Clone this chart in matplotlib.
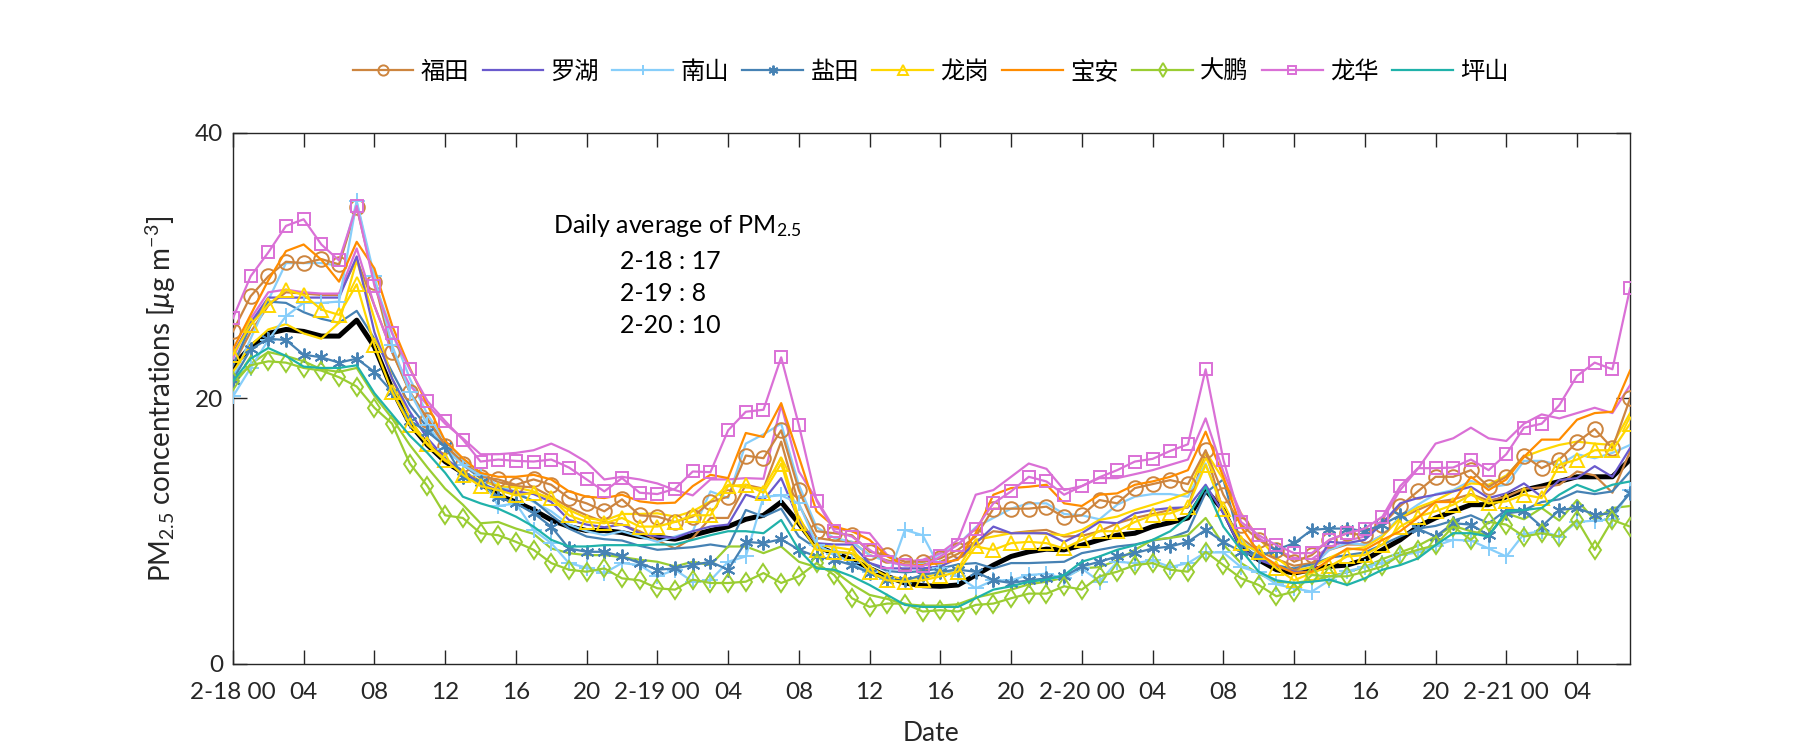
import numpy as np
import matplotlib.pyplot as plt

plt.rcParams['font.family'] = ['Lato', 'Noto Sans CJK SC', 'DejaVu Sans']
plt.rcParams['mathtext.fontset'] = 'custom'
plt.rcParams['mathtext.rm'] = 'Lato'
plt.rcParams['mathtext.it'] = 'Lato:italic'
plt.rcParams['mathtext.default'] = 'regular'

# hourly values, 2-18 00:00 .. 2-21 07:00
hours = np.arange(80)
tick_pos = [0, 4, 8, 12, 16, 20, 24, 28, 32, 36, 40, 44, 48, 52, 56, 60, 64, 68, 72, 76]
tick_labels = ['2-18 00', '04', '08', '12', '16', '20',
               '2-19 00', '04', '08', '12', '16', '20',
               '2-20 00', '04', '08', '12', '16', '20',
               '2-21 00', '04']

names = ['福田', '罗湖', '南山', '盐田', '龙岗', '宝安', '大鹏', '龙华', '坪山']
colors = ['#CD853F', '#6A5ACD', '#87CEFA', '#4682B4', '#FFD700',
          '#FF8C00', '#9ACD32', '#DA70D6', '#20B2AA']
markers = ['o', None, '+', (6, 2, 0), '^', None, 'd', 's', None]
msizes = [10.5, 0, 11, 10, 10.5, 0, 9.5, 8, 0]

# city average (thick black)
avg = [22.4, 23.9, 24.9, 25.2, 25.05, 24.7, 24.7, 25.9, 23.9, 20.7, 18.1, 16.5,
       15.25, 14.4, 13.6, 12.7, 12.2, 11.6, 10.85, 10.35, 10.05, 10.05, 9.9, 9.6,
       9.55, 9.4, 9.7, 10.05, 10.35, 10.9, 11.2, 12.2, 10.6, 8.85, 8.35, 7.85,
       7.2, 6.6, 6.1, 5.9, 5.85, 5.95, 6.7, 7.45, 8.1, 8.45, 8.65, 8.6,
       8.95, 9.35, 9.7, 9.85, 10.35, 10.65, 11.0, 13.1, 11.6, 8.85, 7.85, 7.1,
       6.85, 7.1, 7.35, 7.45, 7.85, 8.6, 9.35, 10.35, 11.0, 11.5, 12.0, 12.0,
       12.6, 13.1, 13.4, 13.75, 14.1, 14.1, 14.1, 15.4]

futian = [25.05, 27.7, 29.2, 30.3, 30.2, 30.5, 30.1, 34.4, 28.8, 23.5, 20.5, 18.4,
          16.4, 15.1, 14.1, 13.9, 13.5, 13.9, 13.5, 12.5, 12.1, 11.5, 12.4, 11.2,
          11.1, 10.7, 11.1, 12.2, 12.6, 15.7, 15.5, 17.6, 13.1, 10.0, 9.85, 9.7,
          8.45, 8.2, 7.7, 7.7, 7.95, 8.6, 9.6, 11.7, 11.7, 11.7, 11.85, 11.05,
          11.2, 12.35, 12.1, 13.25, 13.55, 13.85, 13.55, 16.1, 12.75, 10.5, 9.35, 8.6,
          7.7, 8.2, 9.35, 9.85, 9.7, 10.5, 11.9, 13.0, 14.1, 14.1, 14.6, 13.35,
          14.1, 15.7, 14.75, 15.4, 16.7, 17.7, 16.25, 20.0]
luohu = [23.4, 25.7, 27.6, 27.6, 27.6, 27.6, 27.6, 30.7, 25.0, 21.5, 19.0, 17.0,
         15.5, 14.5, 13.6, 13.1, 13.0, 12.8, 12.2, 10.85, 10.5, 10.3, 10.5, 9.85,
         9.6, 9.5, 10.0, 10.35, 10.5, 12.75, 12.35, 14.0, 10.85, 9.1, 9.0, 9.0,
         7.6, 7.2, 7.2, 7.2, 7.35, 7.95, 9.1, 10.35, 9.85, 9.85, 9.85, 9.2,
         9.85, 10.7, 10.6, 11.35, 11.6, 11.75, 11.8, 13.5, 11.35, 8.7, 7.85, 7.35,
         6.95, 6.95, 9.2, 9.1, 9.35, 10.6, 12.1, 12.5, 12.75, 13.0, 13.35, 12.5,
         12.85, 13.6, 12.6, 13.85, 14.0, 14.9, 14.1, 16.25]
nanshan = [20.15, 22.3, 24.4, 26.2, 27.2, 27.2, 27.3, 34.85, 29.2, 24.0, 20.5, 18.0,
           16.2, 15.0, 14.2, 11.9, 12.1, 10.1, 9.1, 7.6, 7.25, 6.85, 7.6, 7.45,
           6.6, 7.1, 6.2, 6.3, 7.7, 8.1, 12.6, 12.7, 12.1, 9.0, 8.3, 7.6,
           6.9, 6.4, 10.1, 9.7, 7.2, 6.6, 5.7, 6.3, 6.3, 6.7, 6.8, 6.45,
           7.2, 6.2, 7.7, 7.6, 7.8, 7.3, 7.6, 8.4, 8.4, 7.3, 6.9, 6.0,
           5.7, 5.45, 6.3, 7.0, 7.3, 7.6, 8.2, 8.4, 8.9, 9.35, 9.3, 8.7,
           8.1, 9.8, 10.0, 9.6, 10.7, 10.8, 10.9, 13.1]
yantian = [21.4, 23.7, 24.5, 24.4, 23.3, 23.1, 22.7, 23.0, 22.0, 20.5, 18.3, 17.5,
           16.4, 14.1, 13.7, 12.6, 12.1, 11.35, 10.35, 8.7, 8.45, 8.45, 8.1, 7.6,
           7.1, 7.2, 7.45, 7.7, 7.1, 9.2, 9.1, 9.4, 8.6, 8.1, 7.85, 7.45,
           6.85, 6.3, 6.3, 6.7, 6.95, 7.1, 6.95, 6.3, 6.1, 6.3, 6.45, 6.6,
           7.35, 7.7, 8.1, 8.35, 8.7, 8.85, 9.2, 10.1, 9.2, 8.45, 8.1, 8.6,
           9.1, 10.1, 10.2, 10.2, 10.0, 10.5, 11.2, 10.2, 9.6, 10.6, 10.5, 9.7,
           11.35, 11.5, 10.35, 11.6, 11.75, 11.25, 11.35, 12.85]
longgang = [23.3, 25.55, 27.05, 28.2, 27.8, 26.7, 26.3, 28.6, 24.0, 20.5, 18.0, 16.6,
            15.4, 14.25, 13.4, 13.1, 12.7, 12.9, 12.5, 11.2, 10.7, 10.6, 11.0, 10.35,
            10.35, 10.7, 11.2, 11.2, 13.4, 13.5, 12.9, 15.1, 10.6, 8.6, 8.45, 8.35,
            6.95, 6.3, 6.2, 6.3, 6.6, 6.95, 8.85, 8.6, 9.1, 9.2, 9.1, 8.7,
            9.35, 10.0, 10.0, 10.7, 11.2, 11.35, 11.85, 15.0, 11.7, 9.1, 8.45, 7.2,
            6.3, 6.85, 7.35, 8.1, 8.2, 9.0, 10.35, 11.1, 11.5, 12.0, 12.75, 12.1,
            12.25, 12.75, 12.5, 15.0, 15.4, 16.1, 16.1, 18.1]
baoan = [23.7, 26.3, 28.9, 31.1, 31.6, 30.45, 28.8, 31.8, 29.8, 25.5, 22.3, 19.5,
         16.8, 15.5, 14.4, 14.1, 14.1, 14.25, 13.9, 13.0, 12.6, 12.5, 12.75, 12.25,
         12.1, 12.15, 13.4, 14.25, 14.0, 17.4, 17.1, 19.65, 15.6, 11.5, 10.35, 10.0,
         9.35, 8.1, 7.45, 7.45, 7.6, 7.85, 9.85, 12.75, 13.25, 13.35, 13.5, 12.1,
         11.9, 12.75, 12.85, 13.5, 13.75, 14.1, 14.6, 17.5, 14.1, 10.35, 8.35, 7.45,
         6.85, 6.95, 7.85, 8.7, 8.6, 9.35, 10.0, 11.0, 12.2, 12.2, 14.1, 13.1,
         13.9, 15.6, 16.9, 16.9, 18.4, 18.9, 19.0, 22.1]
dapeng = [21.3, 22.5, 22.8, 22.7, 22.3, 22.1, 21.6, 20.9, 19.3, 18.1, 15.1, 13.4,
          11.2, 11.0, 9.85, 9.7, 9.2, 8.6, 7.6, 7.1, 6.95, 7.2, 6.45, 6.3,
          5.7, 5.6, 6.35, 6.1, 6.1, 6.2, 6.85, 6.1, 6.6, 7.6, 6.7, 4.95,
          4.3, 4.55, 4.55, 3.95, 4.05, 3.95, 4.45, 4.55, 4.95, 5.3, 5.3, 5.85,
          5.6, 6.6, 6.95, 7.45, 7.6, 7.1, 6.95, 8.45, 7.45, 6.45, 5.95, 5.1,
          5.45, 6.7, 6.6, 6.6, 6.95, 7.35, 8.2, 8.6, 8.95, 10.35, 9.35, 10.7,
          10.5, 9.6, 9.85, 9.6, 10.85, 8.6, 10.85, 10.35]
longhua = [26.05, 29.2, 31.0, 33.0, 33.5, 31.6, 30.4, 34.5, 28.5, 24.9, 22.2, 19.8,
           18.3, 16.9, 15.25, 15.4, 15.3, 15.25, 15.4, 14.8, 13.9, 13.0, 14.0, 12.9,
           12.8, 13.2, 14.5, 14.45, 17.6, 19.0, 19.15, 23.1, 18.0, 12.3, 10.0, 9.6,
           8.6, 7.7, 7.45, 7.35, 8.1, 9.0, 10.2, 12.1, 13.0, 14.1, 13.75, 12.75,
           13.4, 14.07, 14.6, 15.25, 15.45, 16.05, 16.55, 22.2, 15.4, 10.7, 9.7, 8.95,
           8.35, 8.35, 9.35, 9.85, 10.2, 11.1, 13.4, 14.75, 14.75, 14.8, 15.4, 14.6,
           15.8, 17.8, 18.1, 19.5, 21.7, 22.7, 22.2, 28.3]
pingshan = [21.3, 23.0, 23.8, 23.2, 22.4, 22.3, 22.3, 22.5, 20.4, 18.8, 17.2, 15.9,
            14.4, 12.6, 12.1, 11.7, 11.1, 10.35, 9.35, 8.85, 8.85, 8.95, 8.95, 8.95,
            9.0, 9.0, 9.35, 9.7, 10.0, 10.0, 9.85, 10.85, 8.6, 7.2, 7.1, 6.6,
            5.95, 5.2, 4.45, 4.3, 4.3, 4.3, 4.95, 5.6, 5.85, 6.2, 6.35, 6.7,
            7.7, 8.1, 8.6, 8.95, 9.35, 10.0, 11.1, 13.35, 10.35, 8.6, 6.95, 6.3,
            6.1, 6.2, 6.35, 5.95, 6.45, 7.1, 7.45, 7.95, 8.95, 9.85, 9.85, 9.6,
            11.5, 11.6, 11.75, 12.75, 13.5, 13.0, 13.5, 13.75]

# second set of station curves (drawn without markers)
futian_b = [22.5, 25.0, 27.0, 28.0, 27.9, 27.8, 27.8, 30.5, 27.0, 23.5, 20.5, 18.5,
            16.5, 15.2, 14.3, 13.7, 13.4, 13.3, 12.6, 11.8, 11.2, 10.7, 10.5, 10.0,
            9.3, 8.7, 9.5, 11.0, 11.0, 13.5, 13.2, 16.75, 12.0, 9.5, 9.3, 9.2,
            8.2, 7.8, 7.5, 7.5, 7.7, 8.3, 9.2, 10.0, 9.85, 10.0, 10.1, 9.6,
            9.65, 10.0, 10.6, 11.0, 11.3, 11.6, 11.8, 16.0, 11.5, 9.5, 8.5, 7.9,
            7.4, 7.6, 8.6, 9.0, 9.0, 9.7, 11.0, 11.6, 12.2, 12.4, 12.8, 12.3,
            12.6, 13.2, 13.3, 13.5, 14.5, 14.2, 12.9, 16.0]
nanshan_b = [21.5, 24.5, 27.4, 30.2, 30.2, 30.2, 30.0, 34.8, 28.8, 25.0, 21.5, 18.8,
             16.8, 15.4, 14.4, 13.4, 13.0, 12.2, 11.5, 10.5, 10.0, 9.7, 10.0, 9.6,
             9.2, 9.6, 10.0, 13.0, 12.5, 16.6, 17.3, 18.1, 13.5, 10.3, 9.5, 9.2,
             8.2, 7.7, 7.4, 7.6, 8.3, 9.0, 10.3, 11.0, 11.7, 12.1, 12.1, 11.3,
             11.2, 10.9, 12.0, 12.6, 12.8, 12.8, 12.6, 15.1, 11.5, 9.3, 8.3, 7.5,
             7.0, 7.3, 8.6, 9.1, 9.0, 9.7, 11.1, 12.0, 12.8, 13.1, 13.8, 13.3,
             13.5, 15.3, 15.3, 15.0, 15.8, 15.5, 15.9, 16.5]
yantian_b = [22.5, 25.5, 27.3, 27.2, 26.5, 26.0, 25.7, 26.6, 24.5, 22.0, 19.5, 17.8,
             16.3, 15.0, 14.0, 13.3, 12.8, 12.3, 11.2, 10.2, 9.6, 9.4, 9.3, 8.9,
             8.6, 8.7, 8.8, 9.0, 8.8, 11.6, 11.1, 11.7, 9.6, 8.7, 8.5, 8.3,
             7.6, 7.0, 6.9, 7.0, 7.2, 7.5, 7.6, 7.2, 7.6, 7.6, 7.65, 7.7,
             8.35, 8.6, 8.85, 9.0, 9.3, 9.5, 10.0, 12.9, 13.9, 9.0, 8.0, 7.4,
             7.2, 7.5, 8.0, 8.2, 8.4, 9.0, 9.6, 10.2, 10.4, 10.8, 11.2, 10.6,
             11.6, 11.6, 12.2, 12.4, 13.0, 12.8, 13.0, 14.5]
longgang_b = [22.0, 24.0, 25.2, 25.6, 24.9, 24.5, 25.7, 30.4, 26.0, 21.5, 18.5, 16.5,
              15.3, 14.5, 13.8, 13.4, 13.3, 13.0, 12.4, 11.6, 11.0, 10.8, 11.3, 11.3,
              11.35, 11.1, 11.5, 12.25, 13.5, 13.3, 13.2, 15.5, 11.0, 9.0, 8.8, 8.6,
              7.3, 6.6, 6.4, 6.5, 6.8, 7.2, 9.35, 9.6, 9.85, 9.9, 9.8, 9.7,
              10.1, 10.85, 11.1, 11.6, 12.0, 12.4, 12.9, 16.0, 13.9, 11.35, 9.5, 8.0,
              7.0, 7.3, 8.0, 8.6, 8.8, 9.6, 11.0, 11.8, 12.3, 13.0, 13.6, 13.5,
              14.2, 15.6, 16.1, 16.5, 16.75, 16.6, 16.5, 18.9]
dapeng_b = [21.0, 22.6, 23.5, 23.2, 22.8, 22.2, 22.0, 22.3, 20.2, 18.5, 16.5, 14.8,
            13.2, 12.0, 10.6, 10.7, 10.2, 9.8, 8.7, 8.35, 8.2, 8.2, 8.05, 7.85,
            7.7, 7.35, 7.7, 7.45, 8.85, 8.85, 8.35, 8.85, 7.7, 7.3, 7.0, 6.0,
            5.2, 4.9, 4.5, 4.4, 4.4, 4.5, 5.0, 5.3, 5.6, 6.0, 6.2, 6.5,
            7.2, 7.3, 7.8, 8.6, 9.35, 9.5, 9.7, 11.0, 9.0, 7.6, 6.8, 6.2,
            6.1, 6.3, 6.6, 6.9, 7.3, 7.9, 8.4, 8.9, 9.6, 10.4, 10.0, 9.7,
            11.35, 10.9, 11.75, 10.8, 12.35, 10.85, 11.75, 11.9]
longhua_b = [23.0, 26.0, 28.0, 28.2, 28.0, 27.9, 27.9, 31.3, 27.0, 23.5, 21.0, 19.5,
             18.1, 17.0, 15.8, 15.8, 15.9, 16.1, 16.6, 16.0, 15.2, 13.9, 14.1, 13.9,
             13.6, 13.1, 12.7, 13.9, 13.9, 14.0, 13.95, 19.5, 14.5, 12.4, 10.2, 10.0,
             9.85, 8.2, 7.7, 7.85, 8.35, 9.35, 12.75, 13.1, 14.1, 15.1, 14.7, 13.1,
             13.4, 14.0, 14.0, 14.3, 14.6, 15.0, 15.4, 18.5, 14.5, 11.3, 9.5, 8.6,
             8.0, 7.9, 8.8, 9.3, 9.6, 10.85, 13.1, 14.7, 16.6, 17.0, 17.8, 17.0,
             16.8, 18.1, 18.8, 18.5, 18.9, 19.3, 18.9, 21.0]

main_series = [futian, luohu, nanshan, yantian, longgang, baoan, dapeng, longhua, pingshan]
extra_series = [(futian_b, 0), (nanshan_b, 2), (yantian_b, 3),
                (longgang_b, 4), (dapeng_b, 6), (longhua_b, 7)]

daily_avg = ['2-18 : 17', '2-19 : 8', '2-20 : 10']

fig = plt.figure(figsize=(18, 7.5), dpi=100)
ax = fig.add_axes([0.1294, 0.1147, 0.7762, 0.708])

# average first, underneath everything
ax.plot(hours, avg, color='black', lw=3.6, zorder=2)

for vals, i in extra_series:
    ax.plot(hours, vals, color=colors[i], lw=1.6, zorder=3)

handles = []
for i, vals in enumerate(main_series):
    if markers[i] is None:
        h, = ax.plot(hours, vals, color=colors[i], lw=1.6, zorder=4)
    else:
        h, = ax.plot(hours, vals, color=colors[i], lw=1.6, marker=markers[i],
                     ms=msizes[i], mfc='none', mew=1.4, zorder=4)
    handles.append(h)

ax.set_xlim(0, 79)
ax.set_ylim(0, 40)
ax.set_xticks(tick_pos)
ax.set_xticklabels(tick_labels)
ax.set_yticks([0, 20, 40])

for s in ax.spines.values():
    s.set_color('#262626')
    s.set_linewidth(1.0)
ax.tick_params(direction='in', length=10, width=1.0, colors='#262626',
               labelsize=17.5, top=True, right=True)
ax.tick_params(axis='x', pad=13)
ax.tick_params(axis='y', pad=7)

ax.set_xlabel('Date', fontsize=19, color='#262626', labelpad=13)
ax.set_ylabel('PM$_{2.5}$ concentrations [$\\mathit{μ}$g m$^{-3}$]', fontsize=20,
              color='#262626', labelpad=12)

ax.text(18.1, 33.0, 'Daily average of PM$_{2.5}$', fontsize=18, va='center')
for k, s in enumerate(daily_avg):
    ax.text(21.9, 30.3 - 2.4 * k, s, fontsize=18, va='center')

fig.legend(handles, names, loc='center', bbox_to_anchor=(0.517, 0.905),
           ncol=9, frameon=False, fontsize=17.5, handlelength=2.5,
           handletextpad=0.3, columnspacing=0.55, markerscale=0.7)

fig.savefig('out.png', dpi=100)
